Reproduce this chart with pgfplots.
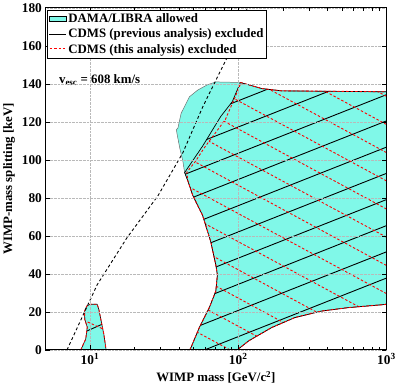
\documentclass[border=0pt]{standalone}
\usepackage{fontspec}
\setmainfont{Liberation Serif}
\usepackage{pgfplots}
\pgfplotsset{compat=1.18}
\definecolor{dama}{RGB}{128,248,232}
\definecolor{damaedge}{RGB}{110,110,110}
\newcommand{\lbl}{\fontsize{13}{15}\selectfont\bfseries}
\newcommand{\reddash}{\rule[-0.45pt]{2.5pt}{0.9pt}\hspace{2pt}}

\begin{document}
\begin{tikzpicture}
\begin{axis}[
    scale only axis,
    width=345pt, height=346pt,
    xmode=log,
    xmin=5, xmax=1000, ymin=0, ymax=180,
    xtick={10,100,1000},
    xticklabels={10\textsuperscript{1},10\textsuperscript{2},10\textsuperscript{3}},
    ytick={0,20,...,180},
    yticklabels={0,20,40,60,80,100,120,140,160,180},
    tick align=inside,
    major tick length=5pt, minor tick length=3pt,
    tick style={black, line width=0.6pt},
    axis line style={line width=1.2pt},
    grid=major,
    grid style={densely dotted, gray!55, line width=0.5pt},
    axis on top,
    unbounded coords=jump,
    tick label style={font=\fontsize{13.5}{15}\selectfont\bfseries},
    label style={font=\lbl},
    xlabel={WIMP mass [GeV/c\textsuperscript{2}]},
    ylabel={WIMP-mass splitting [keV]},
    legend cell align=left,
    legend style={at={(0.004,0.995)}, anchor=north west, draw,
        line width=1pt, fill=white, inner sep=1.5pt, row sep=1pt},
]

% DAMA/LIBRA allowed region, large island
\addplot[fill=dama, draw=damaedge, line width=0.5pt, forget plot] coordinates {
    (103.4,140.7) (144.5,137.5) (196,136.3) (983,135.8) (1000,135.8)
    (1000,24.2) (983,23.9) (547,22.2) (363,20.4) (241,17.0) (168.6,11.8)
    (117.9,4.8) (98.5,0) (47.1,0) (48.1,1.4) (54.7,11.8) (63.8,22.2)
    (70.6,30.9) (72.4,39.5) (70.6,44.7) (65.3,56.9) (57.5,70.8) (49.4,81.2)
    (45.7,89.0) (43.5,93.3) (42.3,99.4) (40.3,106.3) (38.2,115.9) (39.2,116.7)
    (41.2,124.5) (46.9,133.2) (53.3,136.7) (62.0,139.5) (70.6,141.0) (103.4,140.7)
};
% DAMA/LIBRA allowed region, small island
\addplot[fill=dama, draw=black, line width=0.6pt, forget plot] coordinates {
    (8.67,0) (9.36,5.7) (9.59,12.0) (9.22,16.0) (9.2,20.4) (9.5,23.0)
    (10.0,24.0) (11.18,24.0) (11.48,21.3) (12.08,12.6) (12.4,8.3)
    (12.73,2.2) (12.84,0) (8.67,0)
};

% hatching of the CDMS (previous analysis) excluded part
\begin{scope}
\clip (axis cs:103.4,140.7) -- (axis cs:144.5,137.5) -- (axis cs:196,136.3)
    -- (axis cs:1000,135.8) -- (axis cs:1000,24.2) -- (axis cs:983,23.9)
    -- (axis cs:547,22.2) -- (axis cs:363,20.4) -- (axis cs:241,17.0)
    -- (axis cs:168.6,11.8) -- (axis cs:117.9,4.8) -- (axis cs:98.5,0)
    -- (axis cs:47.1,0) -- (axis cs:48.1,1.4) -- (axis cs:54.7,11.8)
    -- (axis cs:63.8,22.2) -- (axis cs:70.6,30.9) -- (axis cs:72.4,39.5)
    -- (axis cs:70.6,44.7) -- (axis cs:65.3,56.9) -- (axis cs:57.5,70.8)
    -- (axis cs:49.4,81.2) -- (axis cs:45.7,89.0) -- (axis cs:43.5,93.3)
    -- (axis cs:57.5,107.2) -- (axis cs:76.2,122.8) -- (axis cs:91.2,130.6)
    -- cycle;
\addplot[black, line width=0.9pt, forget plot] coordinates {
    (36.3,117.5) (1063,162.7) (nan,nan)
    (36.3,103.7) (1063,148.9) (nan,nan)
    (36.3,89.9) (1063,135.1) (nan,nan)
    (36.3,76.1) (1063,121.3) (nan,nan)
    (36.3,62.3) (1063,107.5) (nan,nan)
    (36.3,48.5) (1063,93.7) (nan,nan)
    (36.3,34.7) (1063,79.9) (nan,nan)
    (36.3,20.9) (1063,66.2) (nan,nan)
    (36.3,7.2) (1063,52.4) (nan,nan)
    (36.3,-6.6) (1063,38.6) (nan,nan)
    (36.3,-20.4) (1063,24.8)
};
\end{scope}

% hatching of the CDMS (this analysis) excluded part
\begin{scope}
\clip (axis cs:103.4,140.7) -- (axis cs:144.5,137.5) -- (axis cs:196,136.3)
    -- (axis cs:1000,135.8) -- (axis cs:1000,24.2) -- (axis cs:983,23.9)
    -- (axis cs:547,22.2) -- (axis cs:363,20.4) -- (axis cs:241,17.0)
    -- (axis cs:168.6,11.8) -- (axis cs:117.9,4.8) -- (axis cs:98.5,0)
    -- (axis cs:47.1,0) -- (axis cs:48.1,1.4) -- (axis cs:54.7,11.8)
    -- (axis cs:63.8,22.2) -- (axis cs:70.6,30.9) -- (axis cs:72.4,39.5)
    -- (axis cs:70.6,44.7) -- (axis cs:65.3,56.9) -- (axis cs:57.5,70.8)
    -- (axis cs:49.4,81.2) -- (axis cs:45.7,89.0) -- (axis cs:45.0,93.5)
    -- (axis cs:51.7,99.4) -- (axis cs:59.0,106.3) -- (axis cs:81.9,121.2)
    -- (axis cs:95.5,133.2) -- (axis cs:103.4,139.8) -- cycle;
\addplot[red, line width=0.9pt, dash pattern=on 2.5pt off 2pt, forget plot] coordinates {
    (36.3,194.1) (1063,132.3) (nan,nan)
    (36.3,179.3) (1063,117.5) (nan,nan)
    (36.3,164.5) (1063,102.7) (nan,nan)
    (36.3,149.6) (1063,87.8) (nan,nan)
    (36.3,134.8) (1063,73.0) (nan,nan)
    (36.3,120.0) (1063,58.2) (nan,nan)
    (36.3,105.2) (1063,43.3) (nan,nan)
    (36.3,90.3) (1063,28.5) (nan,nan)
    (36.3,75.5) (1063,13.7) (nan,nan)
    (36.3,60.7) (1063,-1.1) (nan,nan)
    (36.3,45.8) (1063,-16.0) (nan,nan)
    (36.3,31.0) (1063,-30.8) (nan,nan)
    (36.3,16.2) (1063,-45.6)
};
\end{scope}

% hatching inside the small island
\begin{scope}
\clip (axis cs:8.67,0) -- (axis cs:9.36,5.7) -- (axis cs:9.59,12.0)
    -- (axis cs:9.22,16.0) -- (axis cs:9.2,20.4) -- (axis cs:9.5,23.0)
    -- (axis cs:10.0,24.0) -- (axis cs:11.18,24.0) -- (axis cs:11.48,21.3)
    -- (axis cs:12.08,12.6) -- (axis cs:12.4,8.3) -- (axis cs:12.73,2.2)
    -- (axis cs:12.84,0) -- cycle;
\addplot[black, line width=0.9pt, forget plot] coordinates {(8.5,8.2) (13,14.6)};
\addplot[red, line width=0.9pt, dash pattern=on 2.5pt off 2pt, forget plot]
    coordinates {(8.5,16.6) (13,10.1)};
\end{scope}

% outlines of the CDMS excluded regions
\addplot[black, line width=0.7pt, forget plot] coordinates {
    (103.4,140.7) (144.5,137.5) (196,136.3) (1000,135.8) (nan,nan)
    (1000,24.2) (983,23.9) (547,22.2) (363,20.4) (241,17.0) (168.6,11.8)
    (117.9,4.8) (98.5,0) (nan,nan)
    (47.1,0) (48.1,1.4) (54.7,11.8) (63.8,22.2) (70.6,30.9) (72.4,39.5)
    (70.6,44.7) (65.3,56.9) (57.5,70.8) (49.4,81.2) (45.7,89.0) (43.5,93.3)
    (57.5,107.2) (76.2,122.8) (91.2,130.6) (103.4,140.7)
};
\addplot[red, line width=0.9pt, dash pattern=on 2.5pt off 2pt, forget plot] coordinates {
    (103.4,140.7) (144.5,137.5) (196,136.3) (1000,135.8) (nan,nan)
    (1000,24.2) (983,23.9) (547,22.2) (363,20.4) (241,17.0) (168.6,11.8)
    (117.9,4.8) (98.5,0) (nan,nan)
    (47.1,0) (48.1,1.4) (54.7,11.8) (63.8,22.2) (70.6,30.9) (72.4,39.5)
    (70.6,44.7) (65.3,56.9) (57.5,70.8) (49.4,81.2) (45.7,89.0) (45.0,93.5)
    (51.7,99.4) (59.0,106.3) (81.9,121.2) (95.5,133.2) (103.4,139.8)
};
\addplot[red, line width=0.9pt, dash pattern=on 2.5pt off 2pt, forget plot] coordinates {
    (8.67,0) (9.36,5.7) (9.59,12.0) (9.22,16.0) (9.2,20.4) (9.5,23.0)
    (10.0,24.0) (11.18,24.0) (11.48,21.3) (12.08,12.6) (12.4,8.3)
    (12.73,2.2) (12.84,0)
};

% v_esc = 608 km/s
\addplot[black, line width=0.9pt, dash pattern=on 3pt off 2.5pt, forget plot] coordinates {
    (7.0,0) (9.36,21.3) (11.19,34.3) (17.7,58.8) (28.8,81.2) (42.3,103.7)
    (57.5,127.7) (78.2,148.8) (98.5,164.4) (115,180)
};

\node[anchor=west, font=\lbl]
    at (axis description cs:0.03,0.789) {v\textsubscript{esc} = 608 km/s};

\addlegendimage{area legend, fill=dama, draw=black, line width=0.6pt}
\addlegendentry{\lbl DAMA/LIBRA allowed}
\addlegendimage{legend image code/.code={
    \draw[draw=black, line width=0.9pt] (0pt,0pt) -- (17pt,0pt);}}
\addlegendentry{\lbl CDMS (previous analysis) excluded}
\addlegendimage{legend image code/.code={
    \node[anchor=west, inner sep=0pt] at (0pt,0pt)
        {\textcolor{red}{\reddash\reddash\reddash\rule[-0.45pt]{2.5pt}{0.9pt}}};}}
\addlegendentry{\lbl CDMS (this analysis) excluded}
\end{axis}
\end{tikzpicture}
\end{document}
